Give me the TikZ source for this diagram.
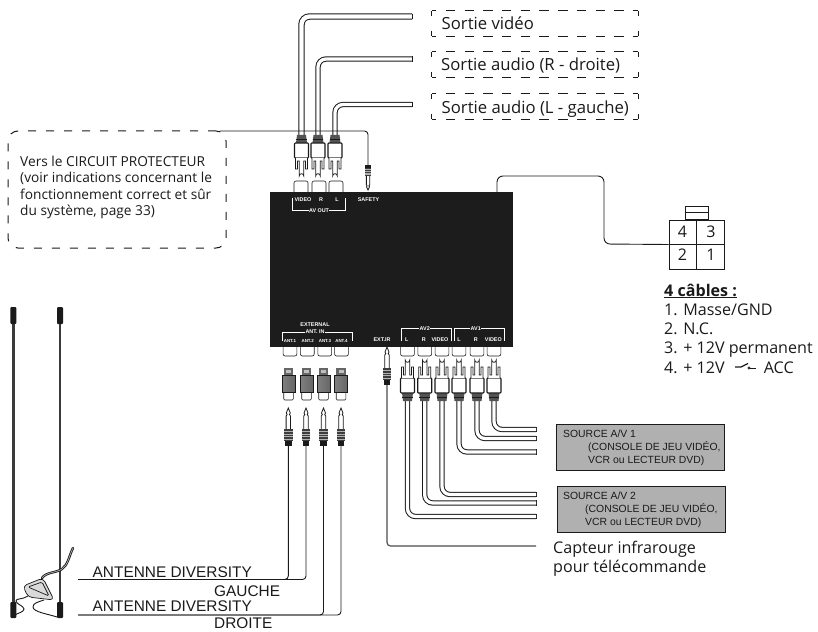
\documentclass[tikz,border=0pt]{standalone}
\usepackage{fontspec}
\setmainfont{Open Sans}
\newfontfamily\arial{Liberation Sans}
\definecolor{ink}{HTML}{1A1A1A}
\definecolor{panel}{HTML}{1C1C1C}
\definecolor{srcgrey}{HTML}{B0B0B0}
\definecolor{rod}{HTML}{3A3A3A}
\tikzset{
  every node/.style={inner sep=0pt,text=ink},
  txt/.style={anchor=base west},
  mainfont/.style={font=\fontsize{16.7}{19.3}\selectfont},
  listfont/.style={font=\fontsize{16.1}{19.3}\selectfont},
  small/.style={font=\fontsize{13.7}{16.5}\selectfont},
  arfont/.style={font=\arial\fontsize{15.4}{17}\selectfont},
  srcfont/.style={font=\arial\fontsize{10.4}{13}\selectfont},
  white label/.style={text=white,font=\arial\bfseries\fontsize{5.4}{6}\selectfont},
  tiny label/.style={text=white,font=\arial\bfseries\fontsize{4.4}{5}\selectfont},
  wire/.style={draw=ink,line width=.9pt,rounded corners=3.5pt},
  cable/.style={draw=ink,line width=1pt,double=white,double distance=#1,rounded corners=8pt},
  cable/.default=3.3pt,
  whiteline/.style={draw=white,line width=.8pt},
  socket/.style={draw=ink,fill=white,line width=.6pt,rounded corners=2pt},
  hdash/.style={draw=ink,line width=1pt,dash pattern=on 9.36pt off 9.36pt,dash phase=4.68pt},
  vdash/.style={draw=ink,line width=1pt,dash pattern=on 5pt off 15pt},
  dbox/.style={minimum width=206pt,minimum height=25pt},
  rca/.pic={
    \fill[ink!75] (-4.5,0) -- (4.5,0) -- (5.5,8) -- (-5.5,8) -- cycle;
    \draw[ink,line width=.5pt] (-5.3,4) -- (5.3,4);
    \draw[ink,fill=white,line width=1.1pt,rounded corners=.8pt] (-7,8) rectangle (7,23);
    \draw[ink,fill=white,line width=.8pt] (-6,23) -- (-6,34) -- (-4,34) -- (-4,26) -- (-2.3,26) -- (-2.3,41) arc[start angle=180,end angle=0,x radius=2.3,y radius=-2.3] -- (2.3,26) -- (4,26) -- (4,34) -- (6,34) -- (6,23);
  },
  jack/.pic={
    \fill[ink] (-3.4,0) rectangle (3.4,5);
    \draw[ink,fill=white,line width=.8pt] (-2.2,16) -- (-2.2,30) -- (-1.2,31.5) -- (-2,33) -- (0,38) -- (2,33) -- (1.2,31.5) -- (2.2,30) -- (2.2,16);
    \fill[ink!85] (-4.4,5) rectangle (4.4,17);
    \foreach \yy in {7,9.5,12,14.5} \draw[white!70!black,line width=.5pt] (-4.4,\yy) -- (4.4,\yy);
  },
  adapter/.pic={
    \draw[ink,fill=white,line width=.6pt,rounded corners=1pt] (-4.8,22) rectangle (4.8,32);
    \shade[left color=black!50,middle color=white,right color=black!60] (-6.5,7) rectangle (6.5,24);
    \draw[ink,line width=.5pt] (-6.5,7) rectangle (6.5,24);
    \fill[black!60] (-4.8,0) rectangle (4.8,7);
    \fill[black!25] (-2.5,2) rectangle (2.5,5);
  },
}
\begin{document}
\begin{tikzpicture}[x=1pt,y=-1pt]
\useasboundingbox (0,0) rectangle (818,631);
% named anchors
\coordinate (pV) at (301.5,135); \coordinate (eV) at (412,16.5);
\coordinate (pR) at (318,135);   \coordinate (eR) at (412,59);
\coordinate (pL) at (335,135);   \coordinate (eL) at (412,104.5);
\coordinate (jS) at (368,165);   \coordinate (sS) at (220,131);
\coordinate (a1V) at (494,401);  \coordinate (e1V) at (536,429.5);
\coordinate (a1R) at (477,401);  \coordinate (e1R) at (536,438.5);
\coordinate (a1L) at (459,401);  \coordinate (e1L) at (536,452);
\coordinate (a2V) at (442,401);  \coordinate (e2V) at (536,494.5);
\coordinate (a2R) at (424.7,401);\coordinate (e2R) at (536,503);
\coordinate (a2L) at (407.5,401);\coordinate (e2L) at (536,516.5);
\coordinate (jIR) at (387,385);  \coordinate (eIR) at (536,546);
\coordinate (j1) at (288.3,446); \coordinate (j2) at (306,446);
\coordinate (j3) at (323.5,446); \coordinate (j4) at (341,446);
\coordinate (eG) at (78,579.5);  \coordinate (eD) at (78,615);
\coordinate (uO) at (497,192);

% sockets
\foreach \xx in {301,319,336}
  \draw[socket] (\xx-7,181) rectangle (\xx+7,197);
\foreach \xx in {290,307.3,324.7,341.5,407.5,424.7,442,459,477,494}
  \draw[socket] (\xx-6.9,340) rectangle (\xx+6.9,356);

% main unit
\node[fill=panel,minimum width=243pt,minimum height=155pt] (unit) at (391.5,269.5) {};
\node[white label,anchor=center] (lv) at (303,200) {VIDEO};
\node[white label,anchor=center] (lr) at (321,200) {R};
\node[white label,anchor=center] (ll) at (337,200) {L};
\node[white label,anchor=center] (lao) at (319,210.5) {AV OUT};
\node[white label,anchor=center] (lsf) at (368.5,200) {SAFETY};
\draw[whiteline] (292.5,198) |- (lao.west);
\draw[whiteline] (345.5,198) |- (lao.east);
\node[white label,anchor=center] (lex) at (315,325) {EXTERNAL};
\node[white label,anchor=center] (lai) at (315,332) {ANT. IN};
\draw[whiteline] (282.5,341) |- (lai.west);
\draw[whiteline] (352.5,341) |- (lai.east);
\node[tiny label,anchor=center] (n1) at (290,340.5) {ANT.1};
\node[tiny label,anchor=center] (n2) at (307.7,340.5) {ANT.2};
\node[tiny label,anchor=center] (n3) at (325,340.5) {ANT.3};
\node[tiny label,anchor=center] (n4) at (341.5,340.5) {ANT.4};
\node[white label,anchor=center] (lir) at (382,340) {EXT.IR};
\node[white label,anchor=center] (lav2) at (424.7,328.5) {AV2};
\node[white label,anchor=center] (lav1) at (475.7,328.5) {AV1};
\draw[whiteline] (401.7,341) |- (lav2.west);
\draw[whiteline] (451.7,341) |- (lav2.east);
\draw[whiteline] (454.3,341) |- (lav1.west);
\draw[whiteline] (504.3,341) |- (lav1.east);
\node[white label,anchor=center] (a2l) at (406.7,340) {L};
\node[white label,anchor=center] (a2r) at (423.7,340) {R};
\node[white label,anchor=center] (a2v) at (440,340) {VIDEO};
\node[white label,anchor=center] (a1l) at (459,340) {L};
\node[white label,anchor=center] (a1r) at (475.7,340) {R};
\node[white label,anchor=center] (a1v) at (493.3,340) {VIDEO};

% output cables
\draw[cable=4.4pt] (pV) |- (eV);
\draw[cable] (pR) |- (eR);
\draw[cable] (pL) |- (eL);
\foreach \e in {eV,eR,eL,e1V,e1R,e1L,e2V,e2R,e2L}
  \draw[ink,line width=1pt] (\e)+(0,-2.6) -- +(0,2.6);
\draw[cable] (a1V) |- (e1V);
\draw[cable] (a1R) |- (e1R);
\draw[cable] (a1L) |- (e1L);
\draw[cable] (a2V) |- (e2V);
\draw[cable] (a2R) |- (e2R);
\draw[cable] (a2L) |- (e2L);
\pic at (pV) {rca}; \pic at (pR) {rca}; \pic at (pL) {rca};
\foreach \c in {a1V,a1R,a1L,a2V,a2R,a2L} \pic[yscale=-1] at (\c) {rca};

% jacks and thin wires
\draw[wire] (sS) -| (jS);
\pic[yscale=.66,xscale=.75] at (jS) {jack};
\draw[wire,draw=black!70,line width=1.2pt] (jIR) |- (eIR);
\pic[yscale=-1] at (jIR) {jack};
\draw[wire] (j1) |- (eG);
\draw[wire] (j2) |- (eG);
\draw[wire] (j3) |- (eD);
\draw[wire] (j4) |- (eD);
\foreach \c in {j1,j2,j3,j4} \pic[yscale=-1] at (\c) {jack};
\foreach \xx in {288.5,306.5,323.5,341} \pic at (\xx,368) {adapter};

% dashed labels
\node[dbox] (b1) at (535,23.5) {};
\node[dbox] (b2) at (535,64.5) {};
\node[dbox] (b3) at (535,106.5) {};
\foreach \b in {b1,b2,b3} {
  \draw[hdash] (\b.north west) -- (\b.north east);
  \draw[hdash] (\b.south west) -- (\b.south east);
  \draw[vdash] (\b.north west) -- (\b.south west);
  \draw[vdash] (\b.north east) -- (\b.south east);
}
\node[txt,mainfont] (t1) at (441.5,30) {Sortie vidéo};
\node[txt,mainfont] (t2) at (441,71) {Sortie audio (R - droite)};
\node[txt,mainfont] (t3) at (441.5,114) {Sortie audio (L - gauche)};

% protector box
\node[draw=ink,line width=1pt,rounded corners=10pt,dash pattern=on 8pt off 10pt,minimum width=218pt,minimum height=117pt] (prot) at (117,189.5) {};
\node[small,anchor=north west,align=left] (vers) at (20,155.5) {Vers le CIRCUIT PROTECTEUR\\(voir indications concernant le\\fonctionnement correct et sûr\\du système, page 33)};

% power connector
\node[draw=ink,line width=1pt,minimum width=55pt,minimum height=49pt] (conn) at (696.5,244.5) {};
\draw[ink,line width=1pt] (conn.north) -- (conn.south);
\draw[ink,line width=1.4pt] (conn.west) -- (conn.east);
\node[draw=ink,line width=.8pt,minimum width=23pt,minimum height=13pt,anchor=south] (tab) at (conn.north) {};
\draw[ink,line width=.8pt] (tab.west) -- (tab.east);
\node[font=\fontsize{16}{16}\selectfont,anchor=center] (d4) at (682.5,232) {4};
\node[font=\fontsize{16}{16}\selectfont,anchor=center] (d3) at (711,232) {3};
\node[font=\fontsize{16}{16}\selectfont,anchor=center] (d2) at (682.5,255) {2};
\node[font=\fontsize{16}{16}\selectfont,anchor=center] (d1) at (711,255) {1};
\draw[wire,rounded corners=6pt] (uO) -- (497,176) -- (604,176) -- (604,244) -- (conn.west);
\node[listfont,anchor=north west,align=left] (list) at (664,283.5) {\underline{\textbf{4 câbles :}}\\1. Masse/GND\\2. N.C.\\3. + 12V permanent\\4. + 12V \hspace{35pt}ACC};
\coordinate (swA) at (735,367); \coordinate (swB) at (749,368); \coordinate (swC) at (756,368);
\draw[ink,line width=1.3pt] (swA) -- (741,367) -- (748,363.5);
\draw[ink,line width=.7pt] (swB) circle (1.2);
\draw[ink,line width=.7pt] (750.2,368) -- (swC);

% sources
\node[draw=ink,fill=srcgrey,line width=1pt,minimum width=168pt,minimum height=46pt,anchor=north west] (s1) at (556,424) {};
\node[draw=ink,fill=srcgrey,line width=1pt,minimum width=168pt,minimum height=46pt,anchor=north west] (s2) at (556.5,486) {};
\node[srcfont,anchor=north west,align=left] (s1t) at (563,430) {SOURCE A/V 1\\\hspace{25pt}(CONSOLE DE JEU VIDÉO,\\\hspace{25pt}VCR ou LECTEUR DVD)};
\node[srcfont,anchor=north west,align=left] (s2t) at (563,491.5) {SOURCE A/V 2\\\hspace{22pt}(CONSOLE DE JEU VIDÉO,\\\hspace{22pt}VCR ou LECTEUR DVD)};
\node[listfont,anchor=north west,align=left] (cap) at (553,540.5) {Capteur infrarouge\\pour télécommande};

% antenna
\draw[rod,line width=2.4pt] (13.5,320) -- (13.5,605);
\draw[rod,line width=2.4pt] (60,320) -- (60,605);
\foreach \xx in {13.3,60} {
  \fill[ink,rounded corners=1pt] (\xx-3,307) rectangle (\xx+3,324);
  \fill[ink,rounded corners=1pt] (\xx-3,602) rectangle (\xx+3,618);
}
\draw[ink,line width=2.4pt,line cap=round] (42,578) .. controls (46,572) and (56,573) .. (62,569) .. controls (68,565) and (69,556) .. (73,548);
\draw[white!70!black,line width=.7pt,line cap=round] (42,578) .. controls (46,572) and (56,573) .. (62,569) .. controls (68,565) and (69,556) .. (73,548);
\draw[ink,line width=.9pt] (28,596) .. controls (22,600) and (16,598) .. (16,601) .. controls (16,604) and (24,606) .. (24,609) .. controls (24,612) and (18,613) .. (15,615);
\draw[ink,line width=.9pt] (44,600) .. controls (38,602) and (33,603) .. (33,607) .. controls (33,612) and (48,614) .. (57,617);
\draw[ink,fill=black!15,line width=.7pt,line join=round,rounded corners=4pt] (23,586) -- (43,578) -- (54,600) -- (28,597) -- cycle;
\draw[ink,line width=.7pt,rounded corners=1.5pt] (28,587) -- (42,582) -- (49,596) -- cycle;

\node[txt,arfont] (ag) at (92.5,577.7) {ANTENNE DIVERSITY};
\node[txt,arfont] (gg) at (214,596.7) {GAUCHE};
\node[txt,arfont] (ad) at (92.5,611.7) {ANTENNE DIVERSITY};
\node[txt,arfont] (dd) at (214,628) {DROITE};
\end{tikzpicture}
\end{document}
